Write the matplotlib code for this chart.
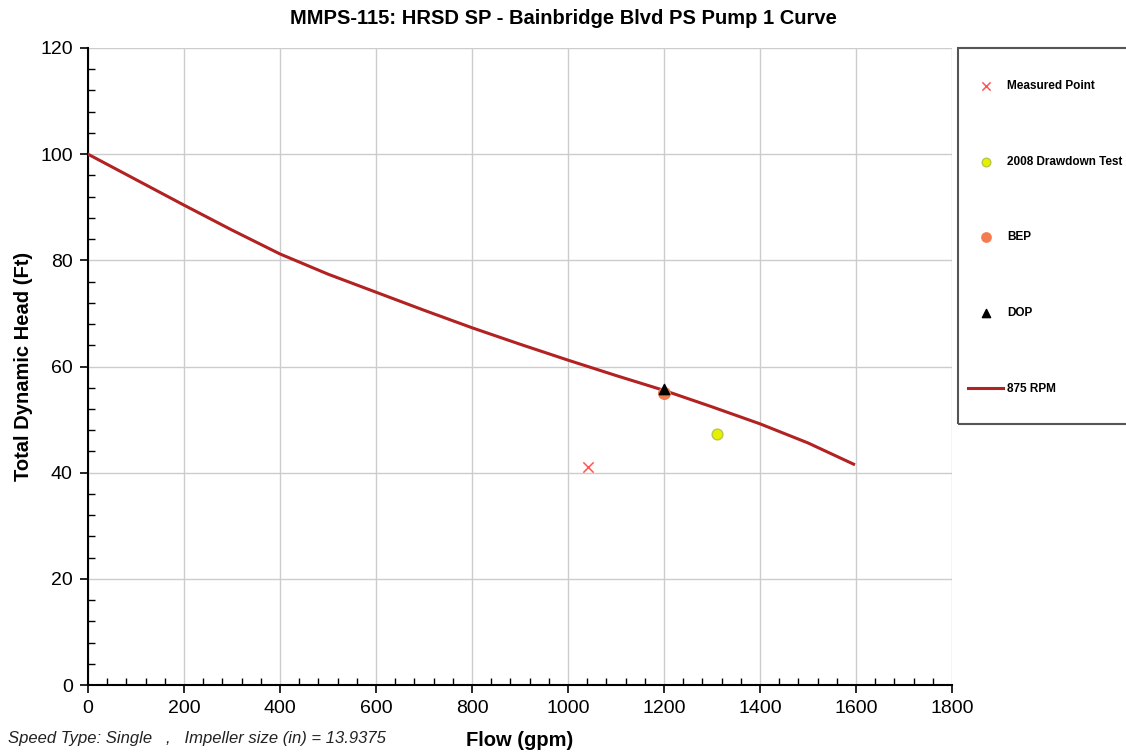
import matplotlib.pyplot as plt
from matplotlib.patches import Rectangle
from matplotlib.ticker import MultipleLocator

plt.rcParams['font.family'] = ['Liberation Sans', 'DejaVu Sans']

# Pump curve (875 RPM)
curve_flow = [0, 100, 200, 300, 400, 500, 600, 700, 800, 900, 1000, 1100, 1200, 1300, 1400, 1500, 1595]
curve_head = [100, 95.2, 90.4, 85.7, 81.2, 77.4, 74.0, 70.6, 67.3, 64.2, 61.2, 58.3, 55.5, 52.4, 49.2, 45.6, 41.6]

# Points
measured_flow = [1042]
measured_head = [41.0]
drawdown_flow = [1310]
drawdown_head = [47.3]
bep_flow = [1200]
bep_head = [55.0]
dop_flow = [1200]
dop_head = [55.8]

W, H = 1126, 755
fig = plt.figure(figsize=(W / 100, H / 100), dpi=100)
ax = fig.add_axes([88 / W, 70 / H, (952 - 88) / W, (685 - 48) / H])

ax.plot(curve_flow, curve_head, color='#b22222', lw=2.2, label='875 RPM', zorder=3)
ax.scatter(measured_flow, measured_head, marker='x', color='#ff5555', s=55, lw=1.1,
           label='Measured Point', zorder=4)
ax.scatter(drawdown_flow, drawdown_head, marker='o', color='#e8f000', edgecolor='#b5c94a',
           s=60, lw=1, label='2008 Drawdown Test', zorder=4)
ax.scatter(bep_flow, bep_head, marker='o', color='#f47a50', s=70, label='BEP', zorder=4)
ax.scatter(dop_flow, dop_head, marker='^', color='black', s=55, label='DOP', zorder=5)

ax.set_xlim(0, 1800)
ax.set_ylim(0, 120)
ax.xaxis.set_major_locator(MultipleLocator(200))
ax.yaxis.set_major_locator(MultipleLocator(20))
ax.xaxis.set_minor_locator(MultipleLocator(40))
ax.yaxis.set_minor_locator(MultipleLocator(4))
ax.tick_params(which='major', direction='out', length=6, width=1.2, labelsize=14, pad=5)
ax.tick_params(which='minor', direction='in', length=5, width=1)
ax.grid(True, which='major', color='#cccccc', lw=1)
ax.set_axisbelow(True)
for s in ['top', 'right']:
    ax.spines[s].set_visible(False)
for s in ['left', 'bottom']:
    ax.spines[s].set_linewidth(1.5)

ax.set_xlabel('Flow (gpm)', fontsize=14.5, fontweight='bold', labelpad=10)
ax.set_ylabel('Total Dynamic Head (Ft)', fontsize=14.5, fontweight='bold', labelpad=5)
fig.text(563 / W, 1 - 18 / H, 'MMPS-115: HRSD SP - Bainbridge Blvd PS Pump 1 Curve',
         ha='center', va='center', fontsize=14.5, fontweight='bold')
fig.text(8 / W, 1 - 738 / H, 'Speed Type: Single   ,   Impeller size (in) = 13.9375',
         ha='left', va='center', fontsize=12, style='italic', color='#222222')

# legend: frame drawn separately so the padding can match the reference
handles, labels = ax.get_legend_handles_labels()
order = ['Measured Point', '2008 Drawdown Test', 'BEP', 'DOP', '875 RPM']
hl = dict(zip(labels, handles))
leg = fig.legend([hl[k] for k in order], order, loc='upper left',
                 bbox_to_anchor=(968 / W, 1 - 80 / H),
                 prop={'weight': 'bold', 'size': 8.5}, labelspacing=5.4,
                 borderpad=0, handlelength=3.0, handletextpad=0.3,
                 frameon=False, markerscale=0.8, borderaxespad=0)
fig.patches.append(Rectangle((958 / W, 1 - 424 / H), 200 / W, (424 - 48) / H,
                             transform=fig.transFigure, fill=False,
                             edgecolor='#555555', lw=1.5))

fig.savefig('out.png', dpi=100)
